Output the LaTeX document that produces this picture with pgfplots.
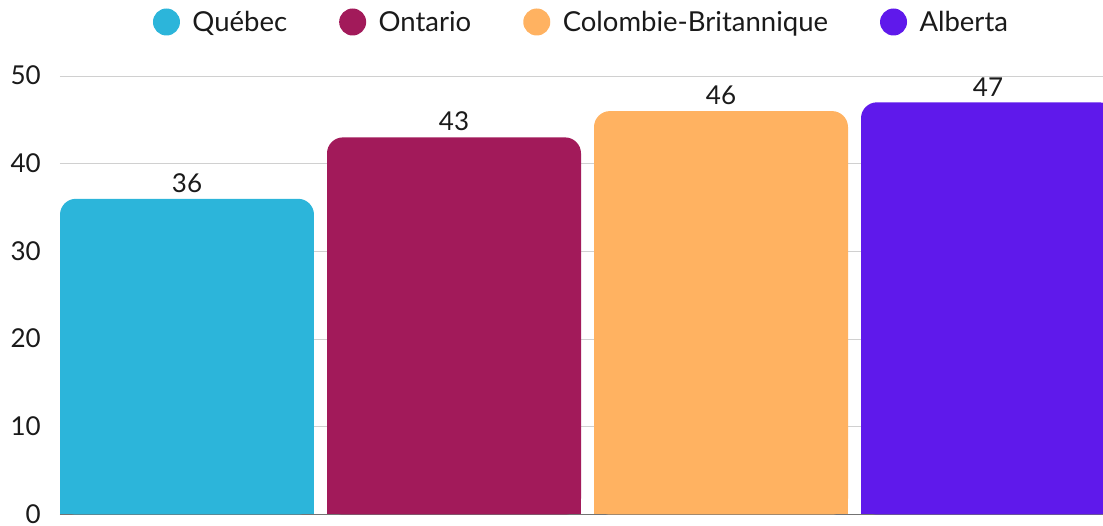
\documentclass[border=0pt]{standalone}
\usepackage{pgfplots}
\pgfplotsset{compat=1.18}
\usepackage{fontspec}
\setmainfont{Lato}
\definecolor{cQ}{HTML}{2CB5DA}
\definecolor{cO}{HTML}{A21A5A}
\definecolor{cC}{HTML}{FFB261}
\definecolor{cA}{HTML}{5F19EB}
\definecolor{gridc}{HTML}{D0D0D0}
\definecolor{txt}{HTML}{1A1A1A}
\begin{document}
\begin{tikzpicture}
\begin{axis}[
  scale only axis,
  width=1043bp, height=438.5bp,
  xmin=-0.47566, xmax=3.43071,
  ymin=0, ymax=50,
  ytick={0,10,20,30,40,50},
  xtick=\empty,
  ymajorgrids, grid style={gridc, line width=0.8bp},
  axis lines*=left,
  y axis line style={draw=none},
  x axis line style={draw=black!55, line width=1bp},
  major tick length=0pt,
  tick style={draw=none},
  /pgf/number format/assume math mode=true,
  yticklabel style={font=\fontsize{26bp}{30bp}\selectfont, text=txt, inner sep=0pt, xshift=-19bp, yshift=0.5bp},
  legend columns=4,
  legend cell align=left,
  legend image code/.code={\fill[#1] (0bp,0bp) circle (13.5bp); \path (24bp,0bp);},
  legend style={at={(0.5,1)}, anchor=center, yshift=54bp, draw=none, fill=none,
    font=\fontsize{27.5bp}{31bp}\selectfont, text=txt,
    /tikz/every even column/.append style={column sep=50bp}},
  every node near coord/.append style={font=\fontsize{26bp}{30bp}\selectfont, text=txt, anchor=south, inner sep=0pt, yshift=6bp},
]
\addplot[ybar, bar width=254bp, bar shift=0pt, fill=cQ, draw=none, rounded corners=16bp, nodes near coords] coordinates {(0,36)};
\addlegendentry{Québec}
\addplot[ybar, bar width=254bp, bar shift=0pt, fill=cQ, draw=none, forget plot] coordinates {(0,30)};
\addplot[ybar, bar width=254bp, bar shift=0pt, fill=cO, draw=none, rounded corners=16bp, nodes near coords] coordinates {(1,43)};
\addlegendentry{Ontario}
\addplot[ybar, bar width=254bp, bar shift=0pt, fill=cO, draw=none, forget plot] coordinates {(1,30)};
\addplot[ybar, bar width=254bp, bar shift=0pt, fill=cC, draw=none, rounded corners=16bp, nodes near coords] coordinates {(2,46)};
\addlegendentry{Colombie-Britannique}
\addplot[ybar, bar width=254bp, bar shift=0pt, fill=cC, draw=none, forget plot] coordinates {(2,30)};
\addplot[ybar, bar width=254bp, bar shift=0pt, fill=cA, draw=none, rounded corners=16bp, nodes near coords] coordinates {(3,47)};
\addlegendentry{Alberta}
\addplot[ybar, bar width=254bp, bar shift=0pt, fill=cA, draw=none, forget plot] coordinates {(3,30)};
\end{axis}
\pgfresetboundingbox
\path[use as bounding box] ([xshift=-60bp,yshift=-11.5bp]current axis.south west) rectangle ([yshift=76bp]current axis.north east);
\end{tikzpicture}
\end{document}
